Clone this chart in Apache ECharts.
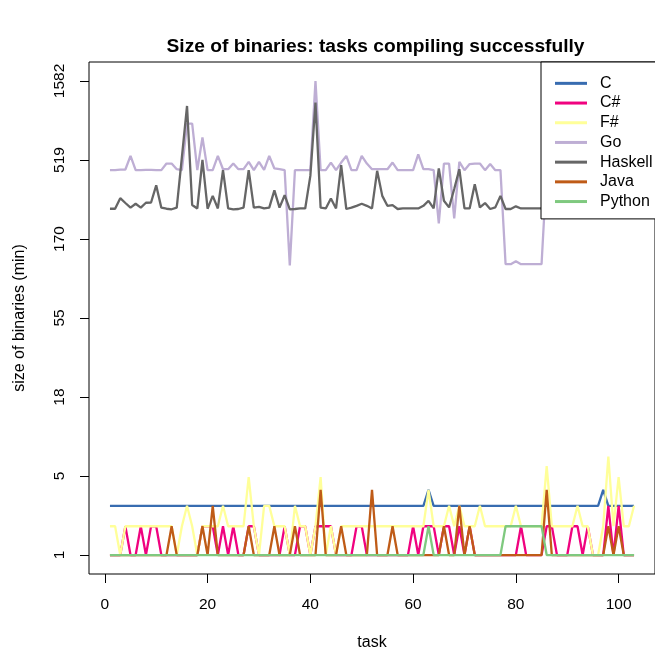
<!DOCTYPE html>
<html><head><meta charset="utf-8">
<script src="https://cdn.jsdelivr.net/npm/echarts@6/dist/echarts.min.js"></script>
<style>html,body{margin:0;padding:0;background:#fff}#c{width:655px;height:656px}</style>
</head><body><div id="c"></div>
<script>
const tasks = [1,2,3,4,5,6,7,8,9,10,11,12,13,14,15,16,17,18,19,20,21,22,23,24,25,26,27,28,29,30,31,32,33,34,35,36,37,38,39,40,41,42,43,44,45,46,47,48,49,50,51,52,53,54,55,56,57,58,59,60,61,62,63,64,65,66,67,68,69,70,71,72,73,74,75,76,77,78,79,80,81,82,83,84,85,86,87,88,89,90,91,92,93,94,95,96,97,98,99,100,101,102,103];
const seriesNames = ['C','C#','F#','Go','Haskell','Java','Python'];
const seriesColors = ['#386CB0','#F0027F','#FFFF99','#BEAED4','#666666','#BF5B17','#7FC97F'];
const yTickLabels = [1,5,18,55,170,519,1582];
const xTicks = [0,20,40,60,80,100];

const cVals = [3,3,3,3,3,3,3,3,3,3, 3,3,3,3,3,3,3,3,3,3, 3,3,3,3,3,3,3,3,3,3, 3,3,3,3,3,3,3,3,3,3, 3,3,3,3,3,3,3,3,3,3, 3,3,3,3,3,3,3,3,3,3, 3,3,4,3,3,3,3,3,3,3, 3,3,3,3,3,3,3,3,3,3, 3,3,3,3,3,3,3,3,3,3, 3,3,3,3,3,3,4,3,3,3, 3,3,3];
const csharpVals = [1,1,1,2,1,1,2,1,2,2, 1,1,1,1,1,1,1,1,2,2, 2,1,2,1,2,1,1,2,2,1, 1,1,1,1,2,1,1,2,2,1, 2,2,2,2,1,1,1,1,2,2, 1,1,1,1,1,1,1,1,1,2, 1,2,2,2,1,2,2,1,2,1, 2,1,1,1,1,1,1,1,1,1, 2,1,1,1,1,2,2,1,1,1, 2,2,1,2,1,1,1,3,1,3, 1,1,1];
const fsharpVals = [2,2,1,2,2,2,2,2,2,2, 2,2,2,1,2,3,2,1,2,2, 2,2,3,2,2,2,2,5,2,1, 3,3,2,2,2,1,3,2,2,1, 2,5,1,2,1,2,2,2,2,2, 2,2,2,2,2,2,2,2,2,2, 2,2,4,2,2,2,3,2,3,2, 2,2,3,2,2,2,2,2,2,3, 2,2,2,2,2,6,2,2,2,2, 2,3,2,2,1,1,2,7,2,5, 2,2,3];
const goVals = [450,450,454,454,550,450,450,452,452,450, 450,494,494,456,450,868,868,450,713,450, 450,550,456,456,494,456,456,506,450,506, 452,550,461,456,450,117,450,450,450,450, 1582,450,450,501,450,501,550,450,450,550, 494,456,456,456,456,501,450,450,450,450, 563,456,456,450,212,494,494,228,506,450, 490,494,494,450,490,450,450,119,119,124, 119,119,119,119,119,450,450,450,450,450, 450,450,450,450,450,450,450,450,450,450, 450,450,450];
const haskellVals = [261,261,303,283,265,280,265,284,285,363, 265,261,259,265,540,1112,275,262,520,261, 313,262,450,262,259,260,265,450,265,268, 262,265,338,265,316,259,260,262,262,415, 1166,265,262,302,262,483,260,265,272,280, 272,262,446,313,272,275,260,262,262,262, 262,272,292,262,461,292,266,345,456,262, 262,369,266,283,260,266,313,260,260,270, 262,262,262,262,262,262,262,262,262,262, 262,262,262,262,262,262,262,262,262,262, 262,262,262];
const javaVals = [1,1,1,1,1,1,1,1,1,1, 1,1,2,1,1,1,1,1,2,1, 3,1,1,1,1,1,1,2,1,1, 1,1,2,1,1,1,2,1,1,1, 1,4,1,1,1,2,1,1,1,1, 1,4,1,1,1,2,1,1,1,1, 1,1,1,1,1,2,1,1,3,1, 2,1,1,1,1,1,1,1,1,1, 1,1,1,1,1,4,1,1,1,1, 1,1,1,1,1,1,1,2,1,2, 1,1,1];
const pythonVals = [1,1,1,1,1,1,1,1,1,1, 1,1,1,1,1,1,1,1,1,1, 1,1,1,1,1,1,1,1,1,1, 1,1,1,1,1,1,1,1,1,1, 1,1,1,1,1,1,1,1,1,1, 1,1,1,1,1,1,1,1,1,1, 1,1,2,1,1,1,1,1,1,1, 1,1,1,1,1,1,1,2,2,2, 2,2,2,2,2,1,1,1,1,1, 1,1,1,1,1,1,1,1,1,1, 1,1,1];

const allVals = [cVals, csharpVals, fsharpVals, goVals, haskellVals, javaVals, pythonVals];

// y scale: log10(size + 1)
const tr = v => Math.log10(v + 1);
const lo = tr(yTickLabels[0]), hi = tr(yTickLabels[yTickLabels.length - 1]);
const yTickPos = yTickLabels.map((_, i) => lo + i * (hi - lo) / (yTickLabels.length - 1));
const yPad = 0.04 * (hi - lo);
const xPad = 0.04 * (tasks[tasks.length - 1] - tasks[0]);
const FONT = 'Liberation Sans, Arial, Helvetica, sans-serif';

const chart = echarts.init(document.getElementById('c'), null, {renderer: 'canvas'});
chart.setOption({
  animation: false,
  backgroundColor: '#fff',
  title: {
    text: 'Size of binaries: tasks compiling successfully',
    left: 375.5, top: 37, textAlign: 'center', padding: 0,
    textStyle: {fontFamily: FONT, fontWeight: 'bold', fontSize: 19.2, color: '#000'}
  },
  grid: {left: 89, top: 62, width: 573, height: 514, show: true, borderColor: '#000', borderWidth: 1, backgroundColor: 'transparent'},
  legend: {
    orient: 'vertical', left: 541, top: 62,
    padding: [11.5, 30, 7.5, 14],
    backgroundColor: '#fff', borderColor: '#000', borderWidth: 1,
    itemWidth: 32, itemHeight: 3, itemGap: 0, icon: 'rect',
    textStyle: {fontFamily: FONT, fontSize: 16, color: '#000', lineHeight: 19.7, padding: [0, 0, 0, 8]},
    data: seriesNames
  },
  xAxis: {
    type: 'value', min: tasks[0] - xPad, max: tasks[tasks.length - 1] + xPad,
    name: 'task', nameLocation: 'middle', nameGap: 61,
    nameTextStyle: {fontFamily: FONT, fontSize: 16, color: '#000'},
    axisLine: {show: false, onZero: false}, splitLine: {show: false},
    axisTick: {show: true, length: 9, customValues: xTicks, lineStyle: {color: '#000'}},
    axisLabel: {customValues: xTicks, margin: 23, fontFamily: FONT, fontSize: 15.5, color: '#000'}
  },
  yAxis: {
    type: 'value', min: lo - yPad, max: hi + yPad,
    name: 'size of binaries (min)', nameLocation: 'middle', nameGap: 61, nameRotate: 90,
    nameTextStyle: {fontFamily: FONT, fontSize: 16, color: '#000'},
    axisLine: {show: false, onZero: false}, splitLine: {show: false},
    axisTick: {show: true, length: 9, customValues: yTickPos, lineStyle: {color: '#000'}},
    axisLabel: {
      customValues: yTickPos, rotate: 90, margin: 21, fontFamily: FONT, fontSize: 15.5, color: '#000',
      formatter: (val) => {
        let best = 0, d = Infinity;
        yTickPos.forEach((p, i) => { if (Math.abs(p - val) < d) { d = Math.abs(p - val); best = i; } });
        return String(yTickLabels[best]);
      }
    }
  },
  series: seriesNames.map((name, k) => ({
    name, type: 'line', symbol: 'none', showSymbol: false,
    data: tasks.map((t, i) => [t, tr(allVals[k][i])]),
    lineStyle: {width: 2.3, color: seriesColors[k]},
    itemStyle: {color: seriesColors[k]},
    emphasis: {disabled: true}
  }))
});
</script></body></html>
